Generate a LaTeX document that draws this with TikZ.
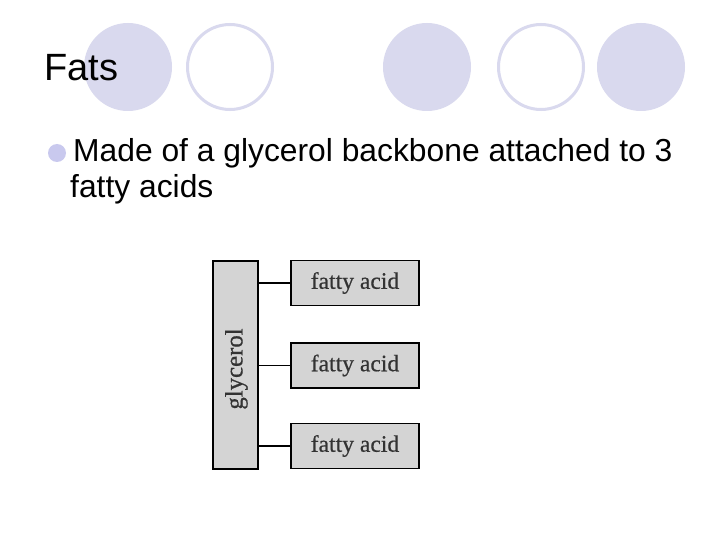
\documentclass[tikz,border=0pt]{standalone}
\usepackage{fontspec}
\setmainfont{Liberation Sans}
\newfontfamily\serifface[FakeBold=0.6]{Liberation Serif}
\definecolor{lav}{HTML}{D9D9EE}
\definecolor{bul}{HTML}{C9C9EE}
\definecolor{boxgray}{HTML}{D4D4D4}
\begin{document}
\begin{tikzpicture}[x=1pt,y=-1pt,
  fillcirc/.style={circle,fill=lav,minimum size=88pt,inner sep=0pt},
  ringcirc/.style={circle,draw=lav,line width=3pt,fill=white,minimum size=85pt,inner sep=0pt},
  acidbox/.style={draw=black,line width=1.8pt,fill=boxgray,minimum width=128pt,minimum height=45pt,inner sep=0pt,font=\serifface\fontsize{23.6}{24}\selectfont,text=black!80},
  link/.style={draw=black,line width=1.8pt}]
\useasboundingbox[fill=white] (0,0) rectangle (720,540);
\node[fillcirc] (c1) at (128,67) {};
\node[ringcirc] (c2) at (230,67) {};
\node[fillcirc] (c3) at (427,67) {};
\node[ringcirc] (c4) at (541,67) {};
\node[fillcirc] (c5) at (641,67) {};
\node[anchor=base west,inner sep=0pt,font=\fontsize{38}{40}\selectfont] (title) at (44,81) {Fats};
\node[circle,fill=bul,minimum size=18pt,inner sep=0pt] (bullet) at (57,153) {};
\node[anchor=base west,inner sep=0pt,font=\fontsize{31.8}{34}\selectfont] (l1) at (73,162) {Made of a glycerol backbone attached to 3};
\node[anchor=base west,inner sep=0pt,font=\fontsize{31.8}{34}\selectfont] (l2) at (70,198) {fatty acids};
\node[draw=black,line width=1.8pt,fill=boxgray,minimum width=45pt,minimum height=208pt,inner sep=0pt] (gly) at (235.5,365) {};
\node[rotate=90,font=\serifface\fontsize{24.8}{26}\selectfont,text=black!80,inner sep=0pt] (glyt) at (236.5,369) {glycerol};
\node[acidbox] (a1) at (355,283) {fatty acid};
\node[acidbox] (a2) at (355,365.5) {fatty acid};
\node[acidbox] (a3) at (355,446) {fatty acid};
\draw[link] (gly.east |- a1.west) -- (a1.west);
\draw[link] (gly.east |- a2.west) -- (a2.west);
\draw[link] (gly.east |- a3.west) -- (a3.west);
\end{tikzpicture}
\end{document}
